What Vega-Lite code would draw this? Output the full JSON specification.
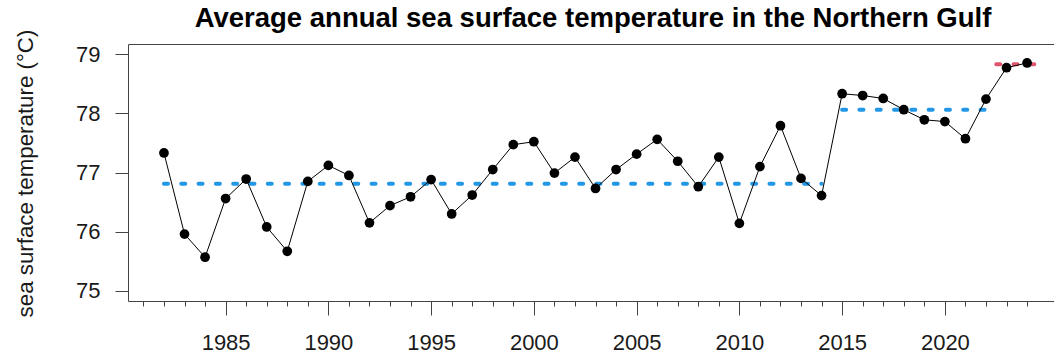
{
  "$schema": "https://vega.github.io/schema/vega-lite/v6.json",
  "width": 926,
  "height": 257,
  "autosize": {"type": "none"},
  "padding": {"left": 128, "top": 44, "right": 0, "bottom": 54},
  "background": "white",
  "config": {
    "view": {"stroke": null},
    "font": "Liberation Sans"
  },
  "title": {
    "text": "Average annual sea surface temperature in the Northern Gulf",
    "font": "Liberation Sans",
    "fontSize": 27.5,
    "fontWeight": "bold",
    "color": "#000000",
    "anchor": "middle",
    "baseline": "alphabetic",
    "offset": 5,
    "dx": 2,
    "dy": 30
  },
  "datasets": {
    "sst": [
      {"year": 1982, "sst": 77.33},
      {"year": 1983, "sst": 75.96},
      {"year": 1984, "sst": 75.57},
      {"year": 1985, "sst": 76.56},
      {"year": 1986, "sst": 76.89},
      {"year": 1987, "sst": 76.08},
      {"year": 1988, "sst": 75.67},
      {"year": 1989, "sst": 76.85},
      {"year": 1990, "sst": 77.12},
      {"year": 1991, "sst": 76.95},
      {"year": 1992, "sst": 76.15},
      {"year": 1993, "sst": 76.44},
      {"year": 1994, "sst": 76.59},
      {"year": 1995, "sst": 76.88},
      {"year": 1996, "sst": 76.30},
      {"year": 1997, "sst": 76.62},
      {"year": 1998, "sst": 77.05},
      {"year": 1999, "sst": 77.47},
      {"year": 2000, "sst": 77.52},
      {"year": 2001, "sst": 76.99},
      {"year": 2002, "sst": 77.26},
      {"year": 2003, "sst": 76.73},
      {"year": 2004, "sst": 77.05},
      {"year": 2005, "sst": 77.31},
      {"year": 2006, "sst": 77.56},
      {"year": 2007, "sst": 77.19},
      {"year": 2008, "sst": 76.76},
      {"year": 2009, "sst": 77.26},
      {"year": 2010, "sst": 76.14},
      {"year": 2011, "sst": 77.10},
      {"year": 2012, "sst": 77.79},
      {"year": 2013, "sst": 76.90},
      {"year": 2014, "sst": 76.61},
      {"year": 2015, "sst": 78.33},
      {"year": 2016, "sst": 78.30},
      {"year": 2017, "sst": 78.25},
      {"year": 2018, "sst": 78.06},
      {"year": 2019, "sst": 77.89},
      {"year": 2020, "sst": 77.86},
      {"year": 2021, "sst": 77.57},
      {"year": 2022, "sst": 78.24},
      {"year": 2023, "sst": 78.77},
      {"year": 2024, "sst": 78.85}
    ],
    "regimes": [
      {"start": 1982, "end": 2014, "mean": 76.81, "regime": "r1"},
      {"start": 2015, "end": 2022, "mean": 78.06, "regime": "r2"},
      {"start": 2022.5, "end": 2024.35, "mean": 78.83, "regime": "r3"}
    ]
  },
  "layer": [
    {
      "data": {"name": "regimes"},
      "mark": {"type": "rule", "strokeWidth": 4, "strokeDash": [4, 13.3], "strokeCap": "round"},
      "encoding": {
        "x": {"field": "start", "type": "quantitative", "scale": {"domain": [1980.25, 2025.31], "nice": false, "zero": false},
          "axis": {"orient": "top", "labels": false, "ticks": false, "title": null, "grid": false, "domain": true, "domainColor": "#444444", "domainWidth": 1}},
        "x2": {"field": "end"},
        "y": {"field": "mean", "type": "quantitative", "scale": {"domain": [74.83, 79.17], "nice": false, "zero": false},
          "axis": {
            "orient": "left",
            "values": [75, 76, 77, 78, 79],
            "format": ".0f",
            "grid": false,
            "domainColor": "#444444",
            "tickColor": "#444444",
            "tickSize": 13,
            "labelPadding": 15,
            "labelFontSize": 22,
            "labelColor": "#1a1a1a",
            "labelFont": "Liberation Sans",
            "title": "sea surface temperature (°C)",
            "titleFont": "Liberation Sans",
            "titleFontSize": 22.3,
            "titleFontWeight": "normal",
            "titleColor": "#1a1a1a",
            "titleAngle": -90,
            "titleAlign": "center",
            "titleBaseline": "middle",
            "titleX": -103,
            "titleY": 129
          }},
        "color": {"field": "regime", "type": "nominal", "scale": {"domain": ["r1", "r2", "r3"], "range": ["#2297E6", "#2297E6", "#DF536B"]}, "legend": null}
      }
    },
    {
      "data": {"name": "sst"},
      "mark": {"type": "line", "color": "#000000", "strokeWidth": 1},
      "encoding": {
        "x": {"field": "year", "type": "quantitative", "scale": {"domain": [1980.25, 2025.31], "nice": false, "zero": false},
          "axis": {
            "orient": "bottom",
            "values": [1981, 1982, 1983, 1984, 1985, 1986, 1987, 1988, 1989, 1990, 1991, 1992, 1993, 1994, 1995, 1996, 1997, 1998, 1999, 2000, 2001, 2002, 2003, 2004, 2005, 2006, 2007, 2008, 2009, 2010, 2011, 2012, 2013, 2014, 2015, 2016, 2017, 2018, 2019, 2020, 2021, 2022, 2023, 2024],
            "labelExpr": "datum.value % 5 === 0 ? '' + datum.value : ''",
            "labelOverlap": false,
            "labelFlush": false,
            "grid": false,
            "domainColor": "#444444",
            "tickColor": "#444444",
            "tickSize": {"condition": {"test": "datum.value % 5 === 0", "value": 14}, "value": 5},
            "labelPadding": 17,
            "labelFontSize": 22,
            "labelColor": "#1a1a1a",
            "labelFont": "Liberation Sans",
            "title": null
          }},
        "y": {"field": "sst", "type": "quantitative"}
      }
    },
    {
      "data": {"name": "sst"},
      "mark": {"type": "point", "shape": "circle", "filled": true, "color": "#000000", "size": 95, "opacity": 1},
      "encoding": {
        "x": {"field": "year", "type": "quantitative", "axis": null},
        "y": {"field": "sst", "type": "quantitative"}
      }
    }
  ],
  "resolve": {"axis": {"x": "independent"}}
}
